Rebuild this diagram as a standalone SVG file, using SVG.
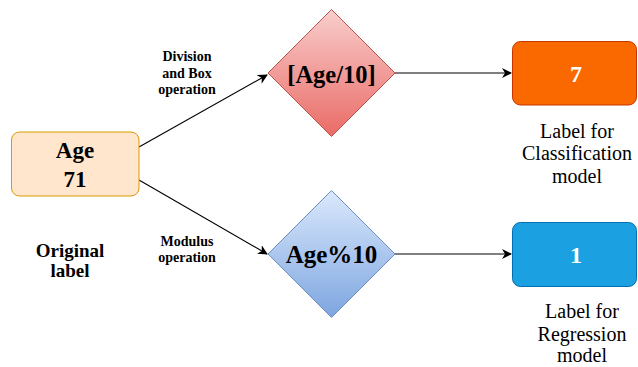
<svg xmlns="http://www.w3.org/2000/svg" width="638" height="367" viewBox="0 0 638 367" font-family="'Liberation Serif','Times New Roman',serif">
<defs>
<linearGradient id="gRed" x1="0" y1="0" x2="0" y2="1"><stop offset="0" stop-color="#F8CECC"/><stop offset="1" stop-color="#EA6B66"/></linearGradient>
<linearGradient id="gBlue" x1="0" y1="0" x2="0" y2="1"><stop offset="0" stop-color="#DAE8FC"/><stop offset="1" stop-color="#7EA6E0"/></linearGradient>
<marker id="arr" viewBox="0 0 10 10" refX="9" refY="5" markerWidth="10" markerHeight="10" markerUnits="userSpaceOnUse" orient="auto"><path d="M0,0 L10,5 L0,10 L3,5 Z" fill="#000"/></marker>
</defs>
<style>
text{text-anchor:middle}
.b{font-weight:bold}
.edge{stroke:#000;stroke-width:1.1;fill:none;marker-end:url(#arr)}
.lbl{font-size:14px;font-weight:bold}
.cap{font-size:20px}
</style>
<rect width="638" height="367" fill="#fff"/>
<g id="connectors">
<line class="edge" x1="139" y1="147" x2="267" y2="75"/>
<line class="edge" x1="139" y1="180" x2="267" y2="254"/>
<line class="edge" x1="395" y1="73" x2="511" y2="73"/>
<line class="edge" x1="395" y1="254" x2="511" y2="254"/>
<text class="lbl" x="187" y="61" font-family="Liberation Serif, serif">Division</text>
<text class="lbl" x="187" y="78" font-family="Liberation Serif, serif">and Box</text>
<text class="lbl" x="187" y="94" font-family="Liberation Serif, serif">operation</text>
<text class="lbl" x="187" y="246" font-family="Liberation Serif, serif">Modulus</text>
<text class="lbl" x="187" y="262" font-family="Liberation Serif, serif">operation</text>
</g>
<g id="age">
<rect x="11.5" y="132" width="127.5" height="64" rx="8" fill="#FFE6CC" stroke="#D79B00"/>
<text class="b" x="75" y="158" font-size="23" font-family="Liberation Serif, serif">Age</text>
<text class="b" x="75" y="187" font-size="23" font-family="Liberation Serif, serif">71</text>
</g>
<g id="original-label">
<text class="b" x="70" y="257" font-size="19" font-family="Liberation Serif, serif">Original</text>
<text class="b" x="70" y="277" font-size="19" font-family="Liberation Serif, serif">label</text>
</g>
<g id="div">
<polygon points="331.5,9.5 395,73 331.5,136.5 268,73" fill="url(#gRed)" stroke="#B85450"/>
<text class="b" x="331.5" y="83" font-size="24.5" font-family="Liberation Serif, serif">[Age/10]</text>
</g>
<g id="mod">
<polygon points="331.5,190.5 395,254 331.5,317.5 268,254" fill="url(#gBlue)" stroke="#6C8EBF"/>
<text class="b" x="331.5" y="262.5" font-size="25" font-family="Liberation Serif, serif">Age%10</text>
</g>
<g id="cls">
<rect x="512.5" y="41.5" width="124" height="63.5" rx="8" fill="#FA6800" stroke="#C73500"/>
<text class="b" x="576" y="82" font-size="24" fill="#fff" font-family="Liberation Serif, serif">7</text>
<text class="cap" x="577" y="137.5" font-family="Liberation Serif, serif">Label for</text>
<text class="cap" x="577" y="160" font-family="Liberation Serif, serif">Classification</text>
<text class="cap" x="577" y="182.5" font-family="Liberation Serif, serif">model</text>
</g>
<g id="reg">
<rect x="512.5" y="222.5" width="124" height="64" rx="8" fill="#1BA1E2" stroke="#006EAF"/>
<text class="b" x="576" y="263" font-size="24" fill="#fff" font-family="Liberation Serif, serif">1</text>
<text class="cap" x="582" y="318" font-family="Liberation Serif, serif">Label for</text>
<text class="cap" x="582" y="340.5" font-family="Liberation Serif, serif">Regression</text>
<text class="cap" x="582" y="362" font-family="Liberation Serif, serif">model</text>
</g>
</svg>
